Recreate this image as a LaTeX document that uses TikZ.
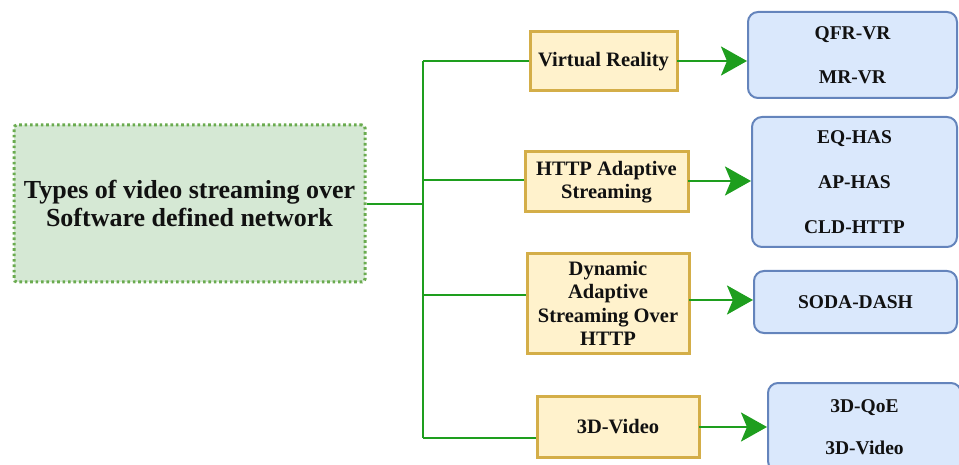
\documentclass[tikz,border=0pt]{standalone}
\usepackage{fontspec}
\setmainfont{Liberation Serif}
\usetikzlibrary{arrows.meta}
\definecolor{mainfill}{HTML}{D5E8D4}
\definecolor{maindraw}{HTML}{6AAB4F}
\definecolor{wire}{HTML}{1E9E1E}
\definecolor{catfill}{HTML}{FFF2CC}
\definecolor{catdraw}{HTML}{D4AE48}
\definecolor{leaffill}{HTML}{DAE8FC}
\definecolor{leafdraw}{HTML}{6484BC}
\definecolor{ink}{HTML}{111111}
\begin{document}
\begin{tikzpicture}[x=1pt,y=-1pt,
  rootbox/.style={draw=maindraw, fill=mainfill, line width=3pt,
    dash pattern=on 2.6pt off 2.8pt, rounded corners=3pt, inner sep=0pt,
    align=center, text=ink, font=\fontsize{26}{28}\selectfont\bfseries},
  catbox/.style={draw=catdraw, fill=catfill, line width=3pt, inner sep=0pt,
    align=center, text=ink, font=\fontsize{20.5}{23.5}\selectfont\bfseries},
  leafbox/.style={draw=leafdraw, fill=leaffill, line width=2pt,
    rounded corners=10pt, inner sep=0pt, align=center, text=ink,
    font=\fontsize{19.5}{22}\selectfont\bfseries},
  wireline/.style={draw=wire, line width=2.8pt},
  feed/.style={wireline, -{Stealth[length=26pt, width=29pt, inset=6pt]}}]
\useasboundingbox (0,0) rectangle (959,465);

% root topic
\node[rootbox, minimum width=351pt, minimum height=157pt] (root) at (189.5,203.5)
  {Types of video streaming over\\Software defined network};

% streaming categories
\node[catbox, minimum width=147pt, minimum height=59pt] (vr) at (603.5,61.5) {Virtual Reality};
\node[catbox, minimum width=163pt, minimum height=60pt] (has) at (606.5,182) {HTTP Adaptive\\Streaming};
\node[catbox, minimum width=162pt, minimum height=99pt] (dash) at (608,303.5) {Dynamic\\Adaptive\\Streaming Over\\HTTP};
\node[catbox, minimum width=162pt, minimum height=61pt] (tdv) at (618,426.5) {3D-Video};

% schemes per category
\node[leafbox, minimum width=209pt, minimum height=86pt] (l1) at (852.5,55) {QFR-VR\\[22pt]MR-VR};
\node[leafbox, minimum width=205pt, minimum height=130pt] (l2) at (854.5,182) {EQ-HAS\\[23pt]AP-HAS\\[23pt]CLD-HTTP};
\node[leafbox, minimum width=203pt, minimum height=62pt] (l3) at (855.5,302) {SODA-DASH};
\node[leafbox, minimum width=193pt, minimum height=88pt] (l4) at (864.5,427) {3D-QoE\\[20pt]3D-Video};

% branching bus
\coordinate (hub) at (423,204);
\coordinate (b1) at (423,61);
\coordinate (b2) at (423,180);
\coordinate (b3) at (423,295);
\coordinate (b4) at (423,438);

\draw[wireline] (root.east |- hub) -- (hub);
\draw[wireline] (b1) -- (b4);
\draw[wireline] (b1) -- (b1 -| vr.west);
\draw[wireline] (b2) -- (b2 -| has.west);
\draw[wireline] (b3) -- (b3 -| dash.west);
\draw[wireline] (b4) -- (b4 -| tdv.west);

% arrows to the schemes
\coordinate (a1) at (677,61);
\coordinate (a2) at (688,181);
\coordinate (a3) at (689,300);
\coordinate (a4) at (699,427);
\draw[feed] (a1) -- (a1 -| l1.west);
\draw[feed] (a2) -- (a2 -| l2.west);
\draw[feed] (a3) -- (a3 -| l3.west);
\draw[feed] (a4) -- (a4 -| l4.west);
\end{tikzpicture}
\end{document}
